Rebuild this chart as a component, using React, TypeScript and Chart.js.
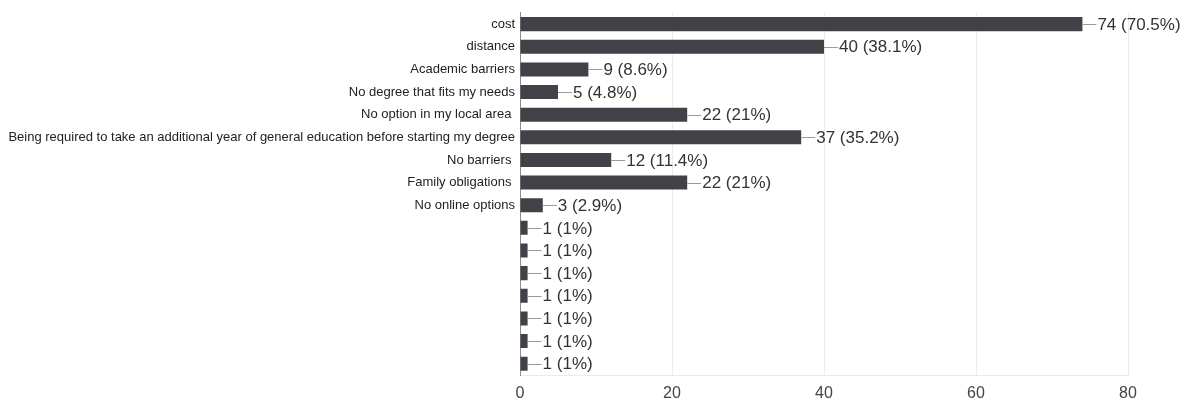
import React, { useEffect, useRef } from "react";
import { Chart, registerables } from "chart.js";

Chart.register(...registerables);

const categories = [
  "cost",
  "distance",
  "Academic barriers",
  "No degree that fits my needs",
  "No option in my local area ",
  "Being required to take an additional year of general education before starting my degree",
  "No barriers ",
  "Family obligations ",
  "No online options",
  "",
  "",
  "",
  "",
  "",
  "",
  "",
];
const counts = [74, 40, 9, 5, 22, 37, 12, 22, 3, 1, 1, 1, 1, 1, 1, 1];
const percents = ["70.5%", "38.1%", "8.6%", "4.8%", "21%", "35.2%", "11.4%", "21%", "2.9%", "1%", "1%", "1%", "1%", "1%", "1%", "1%"];
const xTicks = [0, 20, 40, 60, 80];

const labelPlugin = {
  id: "barLabels",
  afterDatasetsDraw(chart: any) {
    const ctx = chart.ctx;
    const meta = chart.getDatasetMeta(0);
    ctx.save();
    meta.data.forEach((bar: any, i: number) => {
      const x = bar.x;
      const y = Math.round(bar.y) + 0.5;
      ctx.strokeStyle = "#9a9a9a";
      ctx.lineWidth = 1;
      ctx.beginPath();
      ctx.moveTo(x, y);
      ctx.lineTo(x + 14, y);
      ctx.stroke();
      ctx.fillStyle = "#333333";
      ctx.font = "17px 'Liberation Sans', Arial, sans-serif";
      ctx.textAlign = "left";
      ctx.textBaseline = "middle";
      ctx.fillText(`${counts[i]} (${percents[i]})`, x + 15, bar.y + 1);
    });
    ctx.restore();
  },
};

export default function App() {
  const ref = useRef<HTMLCanvasElement>(null);
  useEffect(() => {
    const chart = new Chart(ref.current!, {
      type: "bar",
      data: {
        labels: categories,
        datasets: [
          {
            data: counts,
            backgroundColor: "#404247",
            borderWidth: 0,
            barPercentage: 0.62,
            categoryPercentage: 1,
          },
        ],
      },
      options: {
        indexAxis: "y",
        animation: false,
        responsive: false,
        maintainAspectRatio: false,
        layout: { padding: { top: 11, right: 60, bottom: 0, left: 0 } },
        plugins: { legend: { display: false }, tooltip: { enabled: false } },
        scales: {
          x: {
            min: 0,
            max: 80,
            afterBuildTicks: (s: any) => {
              s.ticks = xTicks.map((v) => ({ value: v }));
            },
            afterFit: (s: any) => {
              s.height = 29;
            },
            grid: { color: "#ebebeb", drawTicks: false },
            border: { color: "#ebebeb" },
            ticks: {
              color: "#444444",
              padding: 9,
              font: { family: "'Liberation Sans', Arial, sans-serif", size: 16 },
            },
          },
          y: {
            grid: { display: false, drawTicks: false },
            border: { color: "#8c8c8c" },
            afterFit: (s: any) => {
              s.width = 520;
            },
            ticks: {
              color: "#222222",
              padding: 5,
              autoSkip: false,
              font: { family: "'Liberation Sans', Arial, sans-serif", size: 13 },
            },
          },
        },
      },
      plugins: [labelPlugin],
    });
    return () => chart.destroy();
  }, []);
  return (
    <div style={{ position: "fixed", left: 0, top: 0, width: 1188, height: 404, background: "#fff" }}>
      <canvas ref={ref} width={1188} height={404} />
    </div>
  );
}
